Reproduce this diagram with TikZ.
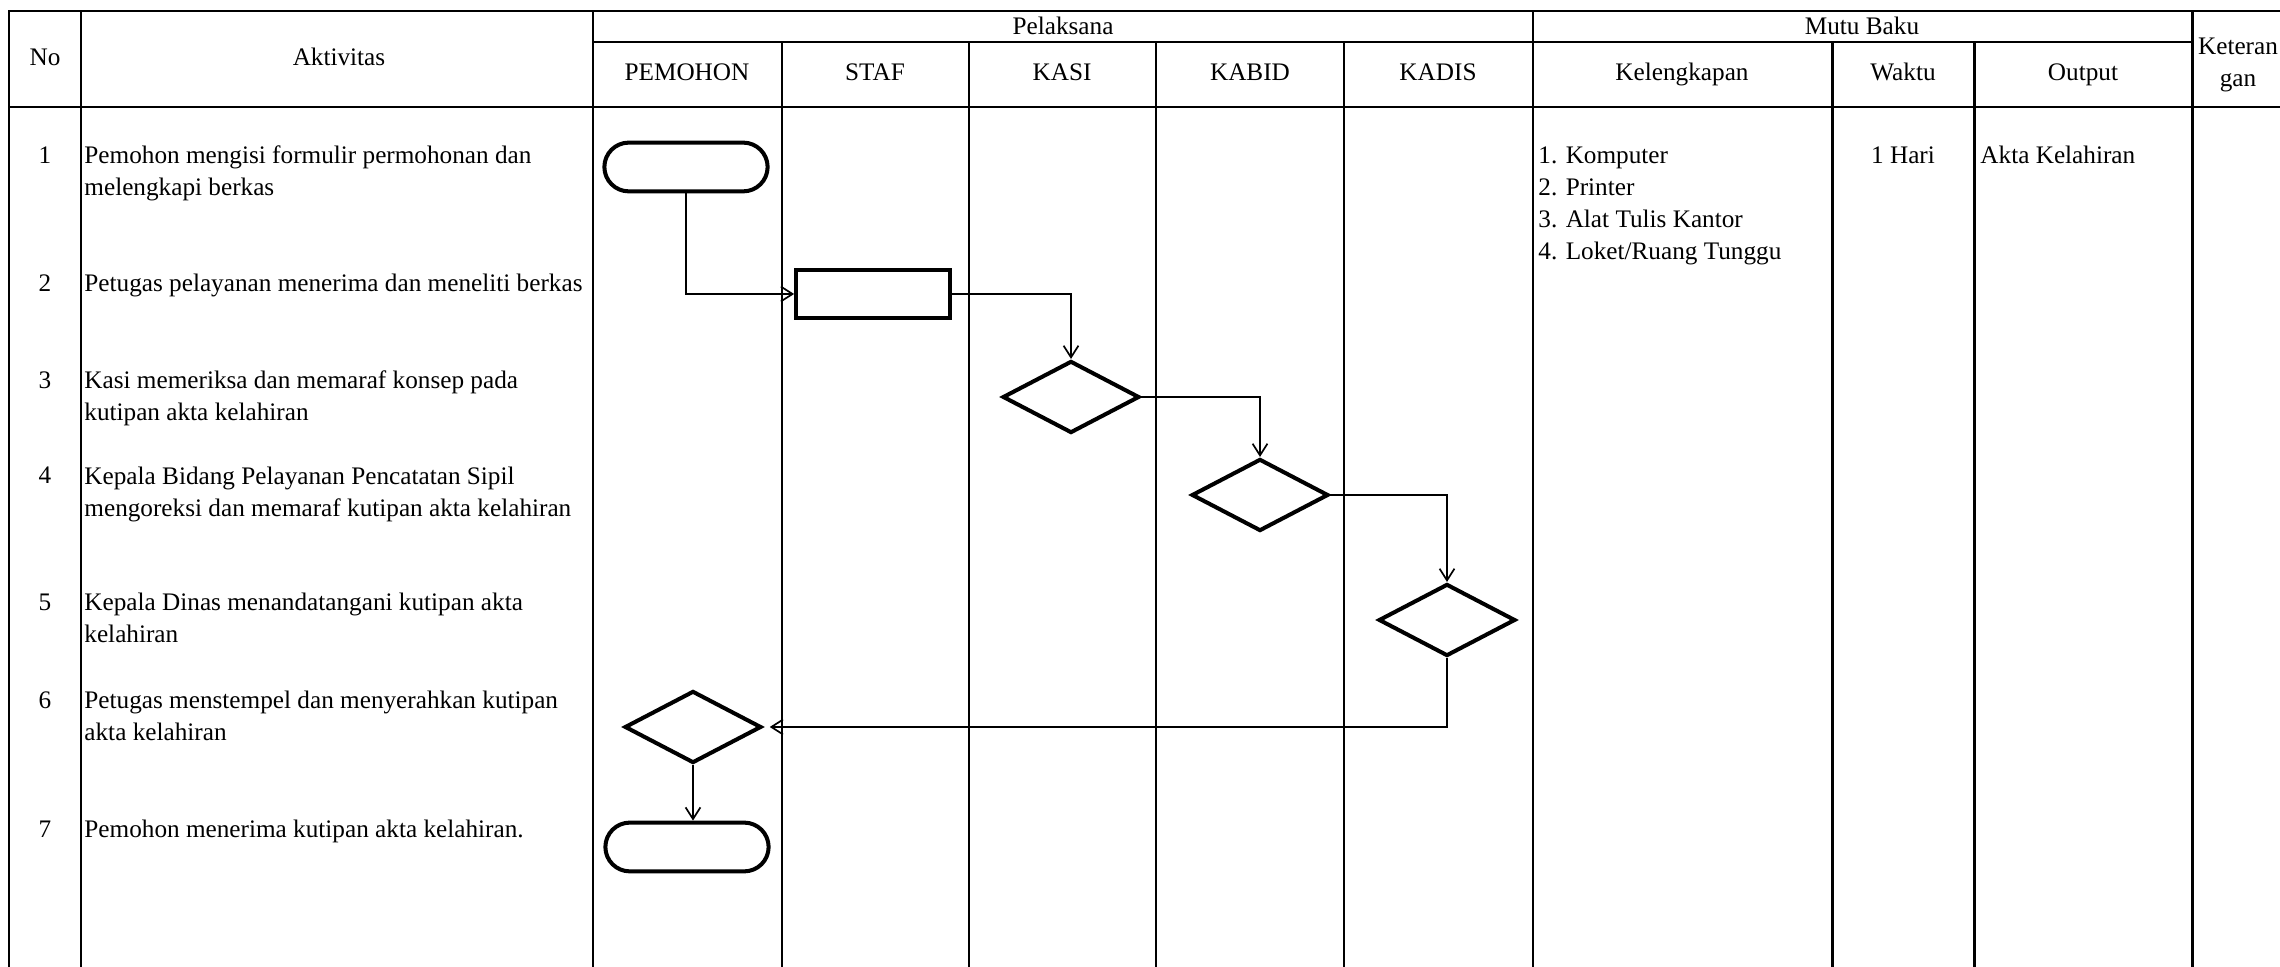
\documentclass[tikz,border=0pt]{standalone}
\usepackage{fontspec}
\setmainfont{Liberation Serif}
\usetikzlibrary{shapes.geometric,arrows.meta}
\begin{document}
\begin{tikzpicture}[x=0.4717pt,y=-0.4717pt,
  grid/.style={line width=1.4pt, line cap=rect},
  txt/.style={inner sep=0pt, font=\fontsize{11.9}{15.2}\selectfont},
  ltxt/.style={txt, anchor=base west, align=left},
  ctxt/.style={txt, anchor=base, align=center},
  term/.style={draw, line width=1.9pt, rounded corners=11.5pt, minimum width=77pt, minimum height=23pt, inner sep=0pt},
  procbox/.style={draw, line width=1.9pt, minimum width=72.5pt, minimum height=22.5pt, inner sep=0pt},
  decis/.style={draw, diamond, line width=1.9pt, minimum width=64.5pt, minimum height=34pt, inner sep=0pt},
  conn/.style={line width=0.8pt, -{Straight Barb[length=5.5pt,width=7pt,line width=0.8pt]}}
]
\useasboundingbox (0,0) rectangle (2280,967);
% table
\draw[grid] (9,11) -- (2280,11);
\draw[grid] (593,42) -- (2192,42);
\draw[grid] (9,107) -- (2280,107);
\foreach \x in {9,81,593,1533,2192} \draw[grid] (\x,11) -- (\x,967);
\foreach \x in {782,969,1156,1344,1832,1974} \draw[grid] (\x,42) -- (\x,967);
% headers (base anchor of a multi-line node = baseline of its last line)
\node[ctxt] (hno) at (45,66) {No};
\node[ctxt] (hakt) at (339,66) {Aktivitas};
\node[ctxt] (hpel) at (1063,35) {Pelaksana};
\node[ctxt] (hmutu) at (1862,35) {Mutu Baku};
\node[ctxt] (hket) at (2238,87) {Keteran\\gan};
\node[ctxt] (hpem) at (687,81) {PEMOHON};
\node[ctxt] (hstaf) at (875,81) {STAF};
\node[ctxt] (hkasi) at (1062,81) {KASI};
\node[ctxt] (hkabid) at (1250,81) {KABID};
\node[ctxt] (hkadis) at (1438,81) {KADIS};
\node[ctxt] (hkel) at (1682,81) {Kelengkapan};
\node[ctxt] (hwak) at (1903,81) {Waktu};
\node[ctxt] (hout) at (2083,81) {Output};
% numbers
\node[ctxt] (n1) at (45,164) {1};
\node[ctxt] (n2) at (45,292) {2};
\node[ctxt] (n3) at (45,389) {3};
\node[ctxt] (n4) at (45,484) {4};
\node[ctxt] (n5) at (45,611) {5};
\node[ctxt] (n6) at (45,709) {6};
\node[ctxt] (n7) at (45,838) {7};
% activities
\node[ltxt] (a1) at (84,196) {Pemohon mengisi formulir permohonan dan\\melengkapi berkas};
\node[ltxt] (a2) at (84,292) {Petugas pelayanan menerima dan meneliti berkas};
\node[ltxt] (a3) at (84,421) {Kasi memeriksa dan memaraf konsep pada\\kutipan akta kelahiran};
\node[ltxt] (a4) at (84,517) {Kepala Bidang Pelayanan Pencatatan Sipil\\mengoreksi dan memaraf kutipan akta kelahiran};
\node[ltxt] (a5) at (84,643) {Kepala Dinas menandatangani kutipan akta\\kelahiran};
\node[ltxt] (a6) at (84,741) {Petugas menstempel dan menyerahkan kutipan\\akta kelahiran};
\node[ltxt] (a7) at (84,838) {Pemohon menerima kutipan akta kelahiran.};
% mutu baku
\node[ltxt] (kel) at (1538,260) {1. Komputer\\2. Printer\\3. Alat Tulis Kantor\\4. Loket/Ruang Tunggu};
\node[ctxt] (wak) at (1903,164) {1 Hari};
\node[ltxt] (out) at (1980,164) {Akta Kelahiran};
% flow shapes
\node[term] (t1) at (686,167) {};
\node[procbox] (r2) at (873,294) {};
\node[decis] (d3) at (1071,397) {};
\node[decis] (d4) at (1260,495) {};
\node[decis] (d5) at (1447,620) {};
\node[decis] (d6) at (693,727) {};
\node[term] (t7) at (687,847) {};
% connectors
\draw[conn] (t1.south) |- (r2.west);
\draw[conn] (r2.east) -| (d3.north);
\draw[conn] (d3.east) -| (d4.north);
\draw[conn] (d4.east) -| (d5.north);
\draw[conn, shorten >=3pt] (d5.south) |- (d6.east);
\draw[conn] (d6.south) -- (d6.south |- t7.north);
\end{tikzpicture}
\end{document}
